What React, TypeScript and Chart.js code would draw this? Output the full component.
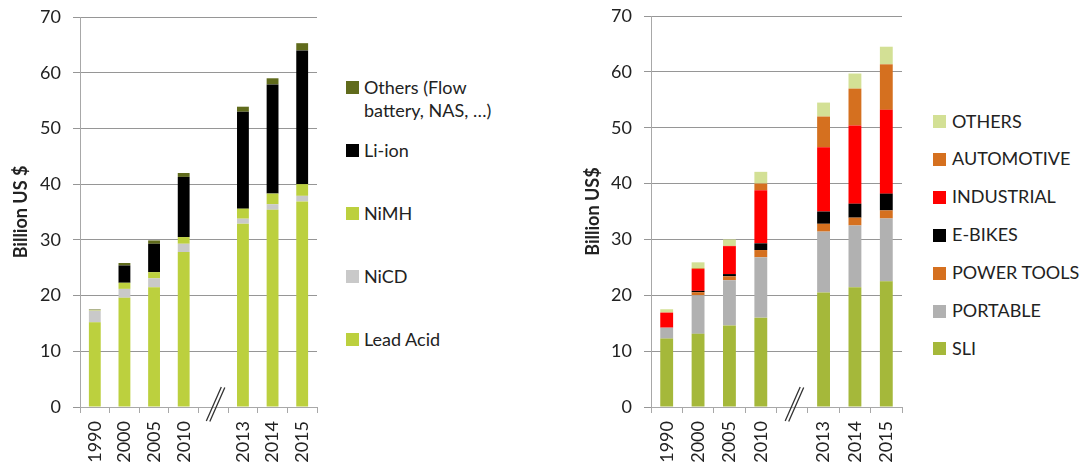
import { useEffect, useRef } from "react";
import { Chart, registerables } from "chart.js";

Chart.register(...registerables);

// ---------- DATA ----------
const categories = ["1990", "2000", "2005", "2010", "", "2013", "2014", "2015"];

// Left chart: by chemistry (Billion US $)
const leadAcid = [15.2, 19.6, 21.5, 27.8, null, 32.9, 35.4, 36.9];
const niCD = [2.1, 1.6, 1.6, 1.5, null, 0.9, 1.0, 1.0];
const niMH = [0.1, 1.1, 1.1, 1.2, null, 1.8, 1.9, 2.1];
const liIon = [0, 3.1, 5.1, 10.8, null, 17.4, 19.6, 24.0];
const othersChem = [0.1, 0.45, 0.6, 0.7, null, 0.9, 1.1, 1.3];

// Right chart: by application (Billion US$)
const sli = [12.25, 13.1, 14.6, 16.0, null, 20.5, 21.45, 22.5];
const portable = [1.95, 6.9, 8.1, 10.8, null, 10.9, 11.05, 11.25];
const powerTools = [0, 0.55, 0.7, 1.3, null, 1.4, 1.4, 1.45];
const eBikes = [0, 0.25, 0.4, 1.2, null, 2.2, 2.5, 3.0];
const industrial = [2.7, 3.9, 5.0, 9.5, null, 11.5, 14.0, 15.0];
const automotive = [0, 0.15, 0.05, 1.2, null, 5.5, 6.6, 8.15];
const othersApp = [0.6, 1.05, 1.15, 2.1, null, 2.5, 2.7, 3.15];

const yTicksMin = 0;
const yTicksMax = 70;
const yTicksStep = 10;

const leftSeriesNames = ["Lead Acid", "NiCD", "NiMH", "Li-ion", "Others (Flow\nbattery, NAS, …)"];
const rightSeriesNames = ["SLI", "PORTABLE", "POWER TOOLS", "E-BIKES", "INDUSTRIAL", "AUTOMOTIVE", "OTHERS"];

// ---------- STYLE ----------
const FONT = "Lato, 'Noto Sans', sans-serif";
const TEXT = "#222222";
const GRID = "#969696";
const AXIS = "#a8a8a8";

const leftColors = ["#bcd03e", "#c9c9c9", "#bcd03e", "#000000", "#606b1c"];
const rightColors = ["#a5b83a", "#b1b1b1", "#d5701f", "#000000", "#ff0000", "#d5701f", "#d3e095"];

const breakPlugin = {
  id: "axisBreak",
  afterDraw(chart: any) {
    const xs = chart.scales.x;
    const ys = chart.scales.y;
    const cx = xs.getPixelForValue(4);
    const y0 = ys.getPixelForValue(0);
    const ctx = chart.ctx;
    ctx.save();
    ctx.strokeStyle = "#333333";
    ctx.lineWidth = 1.3;
    ctx.beginPath();
    ctx.moveTo(cx - 7, y0 + 14);
    ctx.lineTo(cx + 8, y0 - 20);
    ctx.moveTo(cx - 3.5, y0 + 14.5);
    ctx.lineTo(cx + 11.5, y0 - 19.5);
    ctx.stroke();
    ctx.restore();
  },
};

function makeOptions(title: string, padTop: number, yWidth: number) {
  return {
    animation: false as const,
    responsive: false,
    maintainAspectRatio: false,
    layout: { padding: { top: padTop, right: 13, bottom: 0, left: 0 } },
    plugins: { legend: { display: false }, tooltip: { enabled: false } },
    scales: {
      x: {
        stacked: true,
        grid: { offset: true, drawOnChartArea: false, drawTicks: true, tickLength: 6, color: AXIS },
        border: { display: true, color: AXIS },
        ticks: {
          minRotation: 90,
          maxRotation: 90,
          autoSkip: false,
          padding: 8,
          color: TEXT,
          font: { family: FONT, size: 18 },
        },
        afterFit: (s: any) => {
          s.height = 61;
          s.paddingLeft = 0;
          s.paddingRight = 0;
        },
      },
      y: {
        stacked: true,
        min: yTicksMin,
        max: yTicksMax,
        ticks: { stepSize: yTicksStep, padding: 12, color: TEXT, font: { family: FONT, size: 18 } },
        grid: { color: GRID, tickLength: 7 },
        border: { display: true, color: AXIS },
        title: {
          display: true,
          text: title,
          color: TEXT,
          font: { family: FONT, size: 18, weight: "bold" as const },
          padding: { top: 10, bottom: 0 },
        },
        afterFit: (s: any) => {
          s.width = yWidth;
          s.paddingTop = 0;
          s.paddingBottom = 0;
        },
      },
    },
  };
}

function buildDatasets(series: (number | null)[][], names: string[], colors: string[], barPct: number) {
  return series.map((d, i) => ({
    label: names[i],
    data: d,
    backgroundColor: colors[i],
    borderWidth: 0,
    barPercentage: barPct,
    categoryPercentage: 1,
  }));
}

function StackedChart(props: {
  series: (number | null)[][];
  names: string[];
  colors: string[];
  title: string;
  width: number;
  padTop: number;
  yWidth: number;
  barPct: number;
}) {
  const ref = useRef<HTMLCanvasElement | null>(null);
  useEffect(() => {
    if (!ref.current) return;
    const chart = new Chart(ref.current, {
      type: "bar",
      data: {
        labels: categories,
        datasets: buildDatasets(props.series, props.names, props.colors, props.barPct) as any,
      },
      options: makeOptions(props.title, props.padTop, props.yWidth) as any,
      plugins: [breakPlugin],
    });
    return () => chart.destroy();
  }, []);
  return (
    <canvas
      ref={ref}
      width={props.width}
      height={468}
      style={{ width: props.width, height: 468, display: "block" }}
    />
  );
}

function Legend(props: {
  names: string[];
  colors: string[];
  left: number;
  firstCenter: number;
  step: number;
  textOffset: number;
}) {
  const items = props.names.map((n, i) => ({ n, c: props.colors[i] })).reverse();
  return (
    <>
      {items.map((it, k) => {
        const c = props.firstCenter + k * props.step;
        return (
          <div
            key={k}
            style={{ position: "absolute", left: props.left, top: c - 11.5, fontFamily: FONT, fontSize: 18, color: TEXT }}
          >
            <span
              style={{ position: "absolute", left: 0, top: 5.5, width: 13, height: 13, background: it.c, display: "block" }}
            />
            <div style={{ marginLeft: props.textOffset, lineHeight: "23px", whiteSpace: "pre" }}>{it.n}</div>
          </div>
        );
      })}
    </>
  );
}

export default function App() {
  return (
    <div style={{ position: "absolute", left: 0, top: 0, width: 1084, height: 468, background: "#fff", overflow: "hidden" }}>
      <div style={{ position: "absolute", left: 0, top: 0 }}>
        <StackedChart
          series={[leadAcid, niCD, niMH, liIon, othersChem]}
          names={leftSeriesNames}
          colors={leftColors}
          title="Billion US $"
          width={330}
          padTop={17}
          yWidth={80}
          barPct={0.4}
        />
      </div>
      <div style={{ position: "absolute", left: 572, top: 0 }}>
        <StackedChart
          series={[sli, portable, powerTools, eBikes, industrial, automotive, othersApp]}
          names={rightSeriesNames}
          colors={rightColors}
          title="Billion US$"
          width={343}
          padTop={16}
          yWidth={79}
          barPct={0.41}
        />
      </div>
      <Legend names={leftSeriesNames} colors={leftColors} left={346} firstCenter={87} step={63} textOffset={18} />
      <Legend names={rightSeriesNames} colors={rightColors} left={933} firstCenter={121} step={37.9} textOffset={19} />
    </div>
  );
}
